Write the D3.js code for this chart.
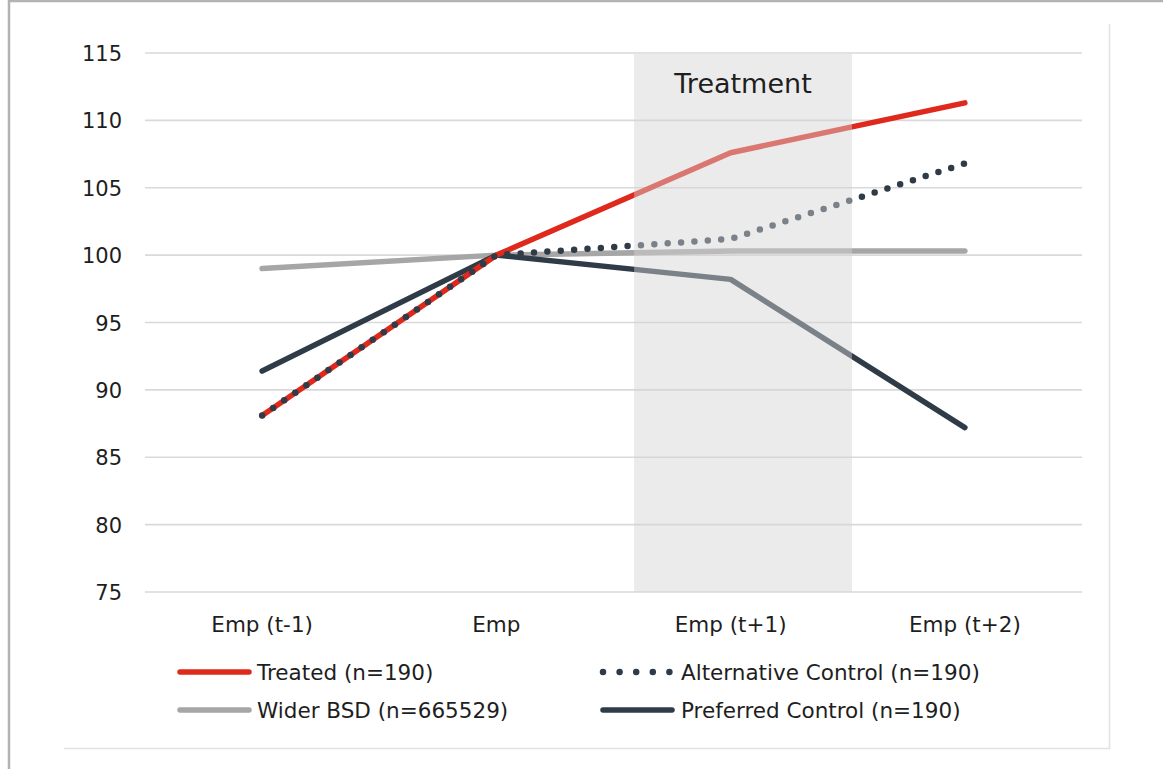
<!DOCTYPE html>
<html>
<head>
<meta charset="utf-8">
<script src="https://cdn.jsdelivr.net/npm/d3@7"></script>
<style>
  html, body { margin: 0; padding: 0; background: #fff; }
  svg { display: block; }
  text { font-family: "DejaVu Sans", "Noto Sans", sans-serif; fill: #1e1e1e; }
</style>
</head>
<body>
<svg id="chart" width="1163" height="769"></svg>
<script>
// Employment index by period (Emp = 100)
const categories = ["Emp (t-1)", "Emp", "Emp (t+1)", "Emp (t+2)"];
const treated     = [88.1, 100, 107.6, 111.3];
const altControl  = [88.1, 100, 101.2, 106.8];
const widerBSD    = [99.0, 100, 100.3, 100.3];
const prefControl = [91.4, 100, 98.2, 87.2];
const yTicks = [75, 80, 85, 90, 95, 100, 105, 110, 115];
const treatmentSpan = ["Emp (t+1)"];
const treatmentLabel = "Treatment";

const legendItems = [
  { name: "Treated (n=190)",              key: "treated" },
  { name: "Alternative Control (n=190)",  key: "alt" },
  { name: "Wider BSD (n=665529)",         key: "wider" },
  { name: "Preferred Control (n=190)",    key: "pref" }
];

const styles = {
  treated: { color: "#df291d", width: 5.5, dash: null },
  alt:     { color: "#2f3c48", width: 6.5, dash: "0,13.4" },
  wider:   { color: "#a6a6a6", width: 5.5, dash: null },
  pref:    { color: "#2f3c48", width: 5.5, dash: null }
};

const svg = d3.select("#chart");

// outer frame (left and top edges) and inner frame (right and bottom edges)
svg.append("rect").attr("x", 9).attr("y", 1).attr("width", 1200).attr("height", 800)
  .attr("fill", "none").attr("stroke", "#b3b3b3").attr("stroke-width", 2.5);
svg.append("path").attr("d", "M1109.5,24V748.5H64")
  .attr("fill", "none").attr("stroke", "#e2e2e2").attr("stroke-width", 1.5);

const plot = { left: 145, right: 1082, top: 53, bottom: 592 };

const x = d3.scaleBand().domain(categories).range([plot.left, plot.right]);
const y = d3.scaleLinear().domain([75, 115]).range([plot.bottom, plot.top]);
const cx = c => x(c) + x.bandwidth() / 2;

// gridlines
svg.append("g").selectAll("line").data(yTicks).join("line")
  .attr("x1", plot.left).attr("x2", plot.right)
  .attr("y1", d => y(d)).attr("y2", d => y(d))
  .attr("stroke", "#d9d9d9").attr("stroke-width", 1.6);

// y axis labels
const yAxis = svg.append("g").attr("transform", `translate(${plot.left - 23},0)`)
  .call(d3.axisLeft(y).tickValues(yTicks).tickSize(0).tickPadding(0));
yAxis.select(".domain").remove();
yAxis.selectAll("text").attr("font-size", 21).attr("font-family", null)
  .attr("fill", "#1e1e1e").attr("dy", "0.36em");

// x axis labels
const xAxis = svg.append("g").attr("transform", `translate(0,${plot.bottom})`)
  .call(d3.axisBottom(x).tickSize(0).tickPadding(0));
xAxis.select(".domain").remove();
xAxis.selectAll("text").attr("font-size", 21.5).attr("font-family", null)
  .attr("fill", "#1e1e1e").attr("dy", null).attr("y", 40);

// series lines
const line = d3.line().x((d, i) => cx(categories[i])).y(d => y(d));
const series = [
  { key: "wider",   values: widerBSD },
  { key: "pref",    values: prefControl },
  { key: "treated", values: treated },
  { key: "alt",     values: altControl }
];
svg.append("g").selectAll("path").data(series).join("path")
  .attr("d", d => line(d.values))
  .attr("fill", "none")
  .attr("stroke", d => styles[d.key].color)
  .attr("stroke-width", d => styles[d.key].width)
  .attr("stroke-linecap", "round")
  .attr("stroke-linejoin", "round")
  .attr("stroke-dasharray", d => styles[d.key].dash);

// treatment period shading, laid over the lines
const bandStart = 0.088, bandWidth = 0.93;
svg.append("g").selectAll("rect").data(treatmentSpan).join("rect")
  .attr("x", d => x(d) + x.bandwidth() * bandStart)
  .attr("width", x.bandwidth() * bandWidth)
  .attr("y", plot.top + 1).attr("height", plot.bottom - plot.top - 1)
  .attr("fill", "#d4d4d4").attr("fill-opacity", 0.46);

svg.append("text")
  .attr("x", x(treatmentSpan[0]) + x.bandwidth() * (bandStart + bandWidth / 2)).attr("y", 93)
  .attr("text-anchor", "middle").attr("font-size", 27)
  .text(treatmentLabel);

// legend
const legendPos = [
  { lx: 180, ly: 672, tx: 257 },
  { lx: 603, ly: 672, tx: 681 },
  { lx: 180, ly: 710, tx: 257 },
  { lx: 603, ly: 710, tx: 681 }
];
const lg = svg.append("g").selectAll("g").data(legendItems).join("g")
  .attr("transform", (d, i) => `translate(${legendPos[i].lx},${legendPos[i].ly})`);
lg.append("path")
  .attr("d", d => d.key === "alt" ? "M0,0H67" : "M0,0H69")
  .attr("fill", "none")
  .attr("stroke", d => styles[d.key].color)
  .attr("stroke-width", d => d.key === "alt" ? 6.5 : 5.5)
  .attr("stroke-linecap", "round")
  .attr("stroke-dasharray", d => d.key === "alt" ? "0,16.6" : null);
lg.append("text")
  .attr("x", (d, i) => legendPos[i].tx - legendPos[i].lx)
  .attr("y", 7.5)
  .attr("font-size", 21.5)
  .text(d => d.name);
</script>
</body>
</html>
